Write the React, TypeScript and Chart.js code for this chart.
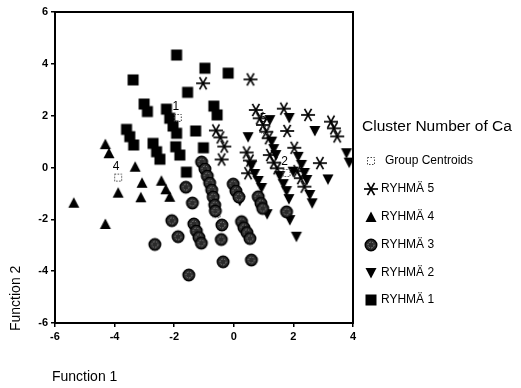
import React, { useEffect, useRef } from 'react';
import { Chart, registerables } from 'chart.js';

Chart.register(...registerables);

const FONT = '"Liberation Sans", Arial, Helvetica, sans-serif';

const xTicks = [-6, -4, -2, 0, 2, 4];
const yTicks = [-6, -4, -2, 0, 2, 4, 6];

const legendTitle = 'Cluster Number of Ca';
const xTitle = 'Function 1';
const yTitle = 'Function 2';

// RYHMÄ 1 (squares)
const g1X = [-1.92, -3.38, -1.55, -3.01, -2.9, -2.26, -2.15, -2.04, -1.92, -1.28, -3.6, -3.49, -3.36, -2.71, -2.59, -2.48, -1.95, -1.81, -0.97, -0.19, -0.67, -0.56, -1.02, -1.59];
const g1Y = [4.34, 3.38, 2.9, 2.45, 2.16, 2.25, 1.9, 1.6, 1.32, 1.41, 1.47, 1.19, 0.87, 0.93, 0.61, 0.32, 0.8, 0.48, 3.83, 3.64, 2.37, 2.03, 0.76, -0.18];

// RYHMÄ 2 (down triangles)
const g2X = [1.21, 1.86, 2.72, 0.48, 1.27, 1.34, 1.41, 3.78, 3.87, 3.16, 0.59, 0.7, 0.82, 0.93, 0.2, 1.54, 1.66, 1.77, 1.85, 2.16, 2.27, 2.37, 2.45, 2.55, 2.63, 1.12, 1.88, 2.1, 1.99];
const g2Y = [1.83, 1.91, 1.41, 1.17, 1.0, 0.71, 0.48, 0.55, 0.19, -0.46, 0.06, -0.25, -0.52, -0.79, -1.29, -0.33, -0.64, -0.91, -1.22, 0.41, 0.1, -0.21, -0.48, -1.06, -1.38, -1.8, -2.03, -2.67, -0.16];

// RYHMÄ 3 (circles)
const g3X = [-1.08, -0.97, -0.89, -0.81, -0.74, -0.69, -0.64, -0.62, -1.61, -1.39, -2.08, -1.87, -2.65, -1.34, -1.26, -1.17, -1.09, -1.51, -0.4, -0.42, -0.36, -0.02, 0.07, 0.17, 0.26, 0.34, 0.44, 0.54, 0.59, 0.82, 0.91, 0.97, 1.77];
const g3Y = [0.21, -0.06, -0.33, -0.6, -0.87, -1.14, -1.45, -1.68, -0.76, -1.37, -2.05, -2.67, -2.97, -2.18, -2.45, -2.7, -2.92, -4.15, -2.22, -2.78, -3.64, -0.64, -0.91, -1.14, -2.09, -2.32, -2.51, -2.74, -3.57, -1.13, -1.38, -1.58, -1.71];

// RYHMÄ 4 (up triangles)
const g4X = [-4.31, -4.19, -3.31, -3.08, -3.88, -3.12, -5.37, -4.31, -2.43, -2.28, -2.15];
const g4Y = [0.9, 0.55, 0.03, -0.59, -0.97, -1.15, -1.36, -2.18, -0.51, -0.84, -1.13];

// RYHMÄ 5 (asterisks)
const g5X = [-1.03, 0.56, 0.74, 0.87, 0.98, 1.09, 1.17, 1.68, 1.79, 2.49, 3.26, 3.36, 3.47, -0.6, -0.45, -0.32, -0.41, 0.43, 0.54, 0.48, 1.21, 1.34, 1.46, 2.03, 2.89, 2.13, 2.25, 2.37];
const g5Y = [3.25, 3.4, 2.22, 1.9, 1.64, 1.38, 1.13, 2.27, 1.41, 2.03, 1.77, 1.51, 1.2, 1.43, 1.16, 0.81, 0.31, 0.58, 0.27, -0.22, 0.48, 0.19, -0.03, 0.76, 0.17, -0.14, -0.41, -0.74];

// Group centroids
const centroidLabels = ['1', '2', '3', '4', '5'];
const centroidX = [-1.88, 1.77, -0.58, -3.88, 1.05];
const centroidY = [1.91, -0.21, -1.8, -0.39, 1.45];

const legendLabels = ['Group Centroids', 'RYHMÄ 5', 'RYHMÄ 4', 'RYHMÄ 3', 'RYHMÄ 2', 'RYHMÄ 1'];

function makeMarker(kind: string): HTMLCanvasElement {
  const s = 18;
  const c = document.createElement('canvas');
  c.width = s;
  c.height = s;
  const g = c.getContext('2d')!;
  const m = s / 2;
  g.fillStyle = '#000';
  g.strokeStyle = '#000';
  if (kind === 'square') {
    g.fillRect(m - 5.5, m - 5.5, 11, 11);
  } else if (kind === 'up') {
    g.beginPath();
    g.moveTo(m, m - 5.5);
    g.lineTo(m + 5.5, m + 5);
    g.lineTo(m - 5.5, m + 5);
    g.closePath();
    g.fill();
  } else if (kind === 'down') {
    g.beginPath();
    g.moveTo(m, m + 5.5);
    g.lineTo(m + 5.5, m - 5);
    g.lineTo(m - 5.5, m - 5);
    g.closePath();
    g.fill();
  } else if (kind === 'circle') {
    g.beginPath();
    g.arc(m, m, 5.8, 0, Math.PI * 2);
    g.fillStyle = '#2b2b2b';
    g.fill();
    g.lineWidth = 1.4;
    g.stroke();
    g.strokeStyle = '#8a8a8a';
    g.lineWidth = 1;
    g.setLineDash([1.5, 1.5]);
    g.beginPath();
    g.arc(m, m, 3, 0, Math.PI * 2);
    g.stroke();
  } else if (kind === 'star') {
    g.lineWidth = 1.7;
    g.lineCap = 'butt';
    const r = 7;
    for (const a of [0, Math.PI / 3, (2 * Math.PI) / 3]) {
      g.beginPath();
      g.moveTo(m - r * Math.cos(a), m - r * Math.sin(a));
      g.lineTo(m + r * Math.cos(a), m + r * Math.sin(a));
      g.stroke();
    }
  } else if (kind === 'centroid') {
    g.strokeStyle = '#444';
    g.lineWidth = 1;
    g.setLineDash([1.5, 1.5]);
    g.strokeRect(m - 3.5, m - 3.5, 7, 7);
  }
  return c;
}

function toPoints(xs: number[], ys: number[]) {
  return xs.map((x, i) => ({ x, y: ys[i] }));
}

export default function App() {
  const ref = useRef<HTMLCanvasElement | null>(null);

  useEffect(() => {
    if (!ref.current) return;
    const markers = {
      centroid: makeMarker('centroid'),
      star: makeMarker('star'),
      up: makeMarker('up'),
      circle: makeMarker('circle'),
      down: makeMarker('down'),
      square: makeMarker('square'),
    };
    const legendMarkers = [markers.centroid, markers.star, markers.up, markers.circle, markers.down, markers.square];

    const decor = {
      id: 'decor',
      beforeDatasetsDraw(chart: any) {
        const ctx = chart.ctx;
        const xs = chart.scales.x;
        const ys = chart.scales.y;
        ctx.save();
        ctx.fillStyle = '#000';
        ctx.font = `12px ${FONT}`;
        ctx.textAlign = 'center';
        ctx.textBaseline = 'middle';
        centroidLabels.forEach((t, i) => {
          ctx.fillText(t, xs.getPixelForValue(centroidX[i]) - 2, ys.getPixelForValue(centroidY[i]) - 11);
        });
        ctx.restore();
      },
      afterDraw(chart: any) {
        const ctx = chart.ctx;
        const a = chart.chartArea;
        ctx.save();
        ctx.strokeStyle = '#000';
        ctx.lineWidth = 2;
        ctx.strokeRect(a.left, a.top, a.right - a.left, a.bottom - a.top);

        ctx.fillStyle = '#000';
        ctx.textBaseline = 'middle';
        ctx.textAlign = 'left';
        ctx.font = `15.5px ${FONT}`;
        ctx.fillText(legendTitle, 362, 127);
        const ly = [161, 189, 217, 245, 273, 300];
        legendLabels.forEach((t, i) => {
          const mk = legendMarkers[i];
          ctx.drawImage(mk, 371 - mk.width / 2, ly[i] - mk.height / 2);
          ctx.font = `12px ${FONT}`;
          ctx.fillText(t, i === 0 ? 385 : 381, ly[i]);
        });

        ctx.font = `14px ${FONT}`;
        ctx.fillText(xTitle, 52, 377);
        ctx.save();
        ctx.translate(16, 331);
        ctx.rotate(-Math.PI / 2);
        ctx.textAlign = 'left';
        ctx.fillText(yTitle, 0, 0);
        ctx.restore();
        ctx.restore();
      },
    };

    const mkScale = (min: number, max: number, ticks: number[], isX: boolean) => ({
      type: 'linear',
      min,
      max,
      afterBuildTicks: (s: any) => {
        s.ticks = ticks.map((v) => ({ value: v }));
      },
      afterFit: (s: any) => {
        if (isX) s.height = 30;
        else s.width = 55;
      },
      grid: {
        display: true,
        drawOnChartArea: false,
        drawTicks: true,
        tickLength: 4,
        color: '#000',
        lineWidth: 1.5,
      },
      border: { display: true, color: '#000', width: 2 },
      ticks: {
        color: '#000',
        font: { family: FONT, size: 11, weight: 'bold' },
        padding: 3,
        maxRotation: 0,
        autoSkip: false,
      },
    });

    const chart = new Chart(ref.current, {
      type: 'scatter',
      data: {
        datasets: [
          { label: 'Group Centroids', data: toPoints(centroidX, centroidY), pointStyle: markers.centroid as any, order: 0 },
          { label: 'RYHMÄ 5', data: toPoints(g5X, g5Y), pointStyle: markers.star as any, order: 1 },
          { label: 'RYHMÄ 4', data: toPoints(g4X, g4Y), pointStyle: markers.up as any, order: 2 },
          { label: 'RYHMÄ 3', data: toPoints(g3X, g3Y), pointStyle: markers.circle as any, order: 3 },
          { label: 'RYHMÄ 2', data: toPoints(g2X, g2Y), pointStyle: markers.down as any, order: 4 },
          { label: 'RYHMÄ 1', data: toPoints(g1X, g1Y), pointStyle: markers.square as any, order: 5 },
        ],
      },
      options: {
        responsive: false,
        animation: false,
        events: [],
        layout: { padding: { left: 0, right: 168, top: 12, bottom: 35 } },
        plugins: { legend: { display: false }, tooltip: { enabled: false } },
        scales: {
          x: mkScale(-6, 4, xTicks, true) as any,
          y: mkScale(-6, 6, yTicks, false) as any,
        },
      },
      plugins: [decor],
    });
    return () => chart.destroy();
  }, []);

  return (
    <div style={{ position: 'fixed', left: 0, top: 0, width: 521, height: 388, background: '#fff' }}>
      <canvas ref={ref} width={521} height={388} style={{ width: 521, height: 388, display: 'block' }} />
    </div>
  );
}
